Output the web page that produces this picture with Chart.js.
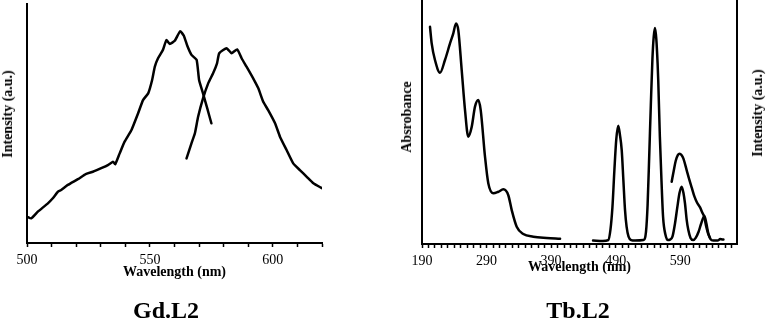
<!DOCTYPE html>
<html>
<head>
<meta charset="utf-8">
<script src="https://cdn.jsdelivr.net/npm/chart.js@4.4.1/dist/chart.umd.min.js"></script>
<style>
  html, body { margin: 0; padding: 0; background: #fff; }
  body { width: 766px; height: 319px; position: relative; overflow: hidden; font-family: 'Liberation Serif', 'Times New Roman', serif; color: #000; }
  .pane { position: absolute; top: 0; }
  .lbl { position: absolute; white-space: nowrap; font-weight: bold; transform: translate(-50%, -50%); line-height: 1; }
  .rot { transform: translate(-50%, -50%) rotate(-90deg); }
  .ttl { font-size: 24px; }
  .ax { font-size: 14px; }
</style>
</head>
<body>
<div class="pane" style="left:0;width:380px;height:319px;"><canvas id="gd" width="380" height="319"></canvas></div>
<div class="pane" style="left:380px;width:386px;height:319px;"><canvas id="tb" width="386" height="319"></canvas></div>
<div class="lbl ax rot" style="left:8px;top:114px;">Intensity (a.u.)</div>
<div class="lbl ax rot" style="left:407px;top:117px;">Absrobance</div>
<div class="lbl ax rot" style="left:758px;top:113px;">Intensity (a.u.)</div>
<div class="lbl ttl" style="left:166px;top:310px;">Gd.L2</div>
<div class="lbl ttl" style="left:578px;top:310px;">Tb.L2</div>
<script>
// ---------- Gd.L2 data ----------
const gdTickLabels = [500, 550, 600];
const gdCurve1Wl = [500, 501.7, 504.4, 508.5, 510.5, 512.6, 513.9, 516.6, 520.7, 524.1, 526.8, 530.2, 532.9, 535, 535.9, 537.7, 539.7, 542.5, 545.2, 547.2, 549.3, 550.9, 552, 553.3, 555.3, 556.7, 558.1, 560.1, 562.3, 563.8, 565.2, 566.9, 569, 570, 571.6, 573.3, 575];
const gdCurve1Int = [11, 10.3, 13.1, 16.6, 18.7, 21.5, 22.2, 24.3, 26.7, 28.9, 29.8, 31.3, 32.6, 34, 33, 37.5, 42.4, 47.3, 54.3, 59.8, 62.6, 68.2, 73.8, 77.3, 80.8, 84.9, 83.3, 84.6, 88.6, 86.7, 82.5, 78.7, 76.6, 68.2, 62.6, 56.4, 50.1];
const gdCurve2Wl = [564.9, 566.9, 568.3, 569.6, 571.6, 573.7, 575.7, 577.3, 578.2, 581.2, 583.2, 585.5, 587.3, 589.3, 592, 594.1, 596.1, 598.1, 600.9, 602.9, 605.6, 608.3, 611, 613.8, 616.5, 620];
const gdCurve2Int = [35.4, 41.7, 45.9, 52.8, 60.5, 66.8, 71, 75.2, 79.4, 81.5, 79.4, 81, 77.3, 73.8, 68.9, 64.7, 59.1, 55.6, 50.1, 44.5, 38.9, 33.3, 30.5, 27.7, 25, 22.9];

// ---------- Tb.L2 data ----------
const tbTickLabels = [190, 290, 390, 490, 590];
const tbAbsWl = [202.4, 205, 210.1, 217.9, 225.6, 233.4, 238.5, 242.7, 246.2, 251.5, 256.6, 261.7, 267, 272.1, 277.2, 280.9, 287.6, 292.7, 300.5, 308.2, 316, 323.7, 329, 336.7, 346.9, 362.4, 383.2, 403.9];
const tbAbsVal = [89, 82.2, 75.4, 70.2, 75.4, 82.2, 86.3, 90.4, 87.7, 71.3, 55, 44, 48, 56.3, 59, 55, 35.8, 24.9, 20.8, 21.4, 22.4, 20, 13.9, 7.1, 4.1, 3, 2.5, 2.2];
const tbPeaksWl = [455, 470, 478.6, 482, 485, 488, 491, 494, 496.5, 499.4, 502, 504.5, 507, 510, 514, 520, 533, 537, 539.5, 542, 544.5, 547, 549, 551, 553, 555, 556, 558.5, 561, 563.5, 567, 571, 574, 578, 582, 585.5, 589, 592.3, 595, 597.4, 600, 602.6, 606, 610.3, 614, 618.5, 622, 627.5, 630.5, 633.5, 637, 641, 648, 652, 657];
const tbPeaksVal = [1.4, 1.2, 1.6, 6, 15, 30, 43, 48.5, 45, 38.5, 26, 14, 7, 3, 1.6, 1.4, 1.6, 5, 16, 36, 57, 76, 85, 88.5, 84, 74, 67, 44, 26, 11, 4, 1.6, 1.8, 3, 8.5, 15, 21, 23.5, 21, 16.7, 10, 5.7, 2.5, 1.6, 2.5, 5, 8, 11.5, 8.5, 4.4, 2, 1.4, 1.4, 2, 1.8];
const tbBroadWl = [576.8, 580, 583, 586.5, 589, 592, 595, 600, 604, 608, 612, 616, 620.8, 624, 627, 630, 633, 636];
const tbBroadVal = [25.5, 30, 34, 36.5, 37, 36.5, 35, 30.3, 26.5, 23, 19.5, 17, 15, 13, 11.3, 7.5, 4.5, 2.5];

// ---------- helpers ----------
const pts = (xs, ys) => xs.map((x, i) => ({ x: x, y: ys[i] }));
const FONT = "'Liberation Serif', 'Times New Roman', serif";
Chart.defaults.font.family = FONT;
Chart.defaults.color = '#000';

function line(xs, ys, tension, mode) {
  return {
    data: pts(xs, ys),
    borderColor: '#000',
    borderWidth: 2.5,
    pointRadius: 0,
    fill: false,
    tension: tension,
    borderJoinStyle: 'round',
    borderCapStyle: 'round',
    cubicInterpolationMode: mode || 'default'
  };
}

function xAxis(min, max, labels, height) {
  return {
    type: 'linear', position: 'bottom', min: min, max: max,
    border: { display: true, color: '#000', width: 2 },
    grid: { display: true, drawOnChartArea: false, drawTicks: true, tickLength: 4, tickColor: '#000', tickWidth: 1.5 },
    ticks: {
      stepSize: 10, autoSkip: false, maxRotation: 0, includeBounds: false, padding: 5,
      font: { size: 14, family: FONT },
      color: '#000',
      callback: (v) => labels.includes(Math.round(v)) ? String(Math.round(v)) : ''
    },
    title: { display: true, text: 'Wavelength (nm)', font: { size: 14, weight: 'bold', family: FONT }, color: '#000', padding: 0 },
    afterFit: (s) => { s.height = height; }
  };
}

function yAxis(width, pos) {
  return {
    type: 'linear', position: pos, min: 0, max: 100,
    border: { display: true, color: '#000', width: 2 },
    grid: { display: false, drawTicks: false },
    ticks: { display: false },
    afterFit: (s) => { s.width = width; }
  };
}

const common = {
  responsive: false,
  devicePixelRatio: 1,
  animation: false,
  plugins: { legend: { display: false }, tooltip: { enabled: false }, title: { display: false } }
};

new Chart(document.getElementById('gd'), {
  type: 'line',
  data: { datasets: [ line(gdCurve1Wl, gdCurve1Int, 0.15), line(gdCurve2Wl, gdCurve2Int, 0.15) ] },
  options: Object.assign({}, common, {
    layout: { padding: { top: 4, left: 0, right: 58, bottom: 38 } },
    scales: {
      x: xAxis(500, 620, gdTickLabels, 38),
      y: yAxis(27, 'left')
    }
  })
});

new Chart(document.getElementById('tb'), {
  type: 'line',
  data: { datasets: [
    line(tbAbsWl, tbAbsVal, 0.4, 'monotone'),
    line(tbPeaksWl, tbPeaksVal, 0.4, 'monotone'),
    line(tbBroadWl, tbBroadVal, 0.4, 'monotone')
  ] },
  options: Object.assign({}, common, {
    layout: { padding: { top: 0, left: 0, right: 0, bottom: 43 } },
    scales: {
      x: xAxis(190, 678, tbTickLabels, 32),
      y: yAxis(42, 'left'),
      y2: yAxis(29, 'right')
    }
  })
});
</script>
</body>
</html>
